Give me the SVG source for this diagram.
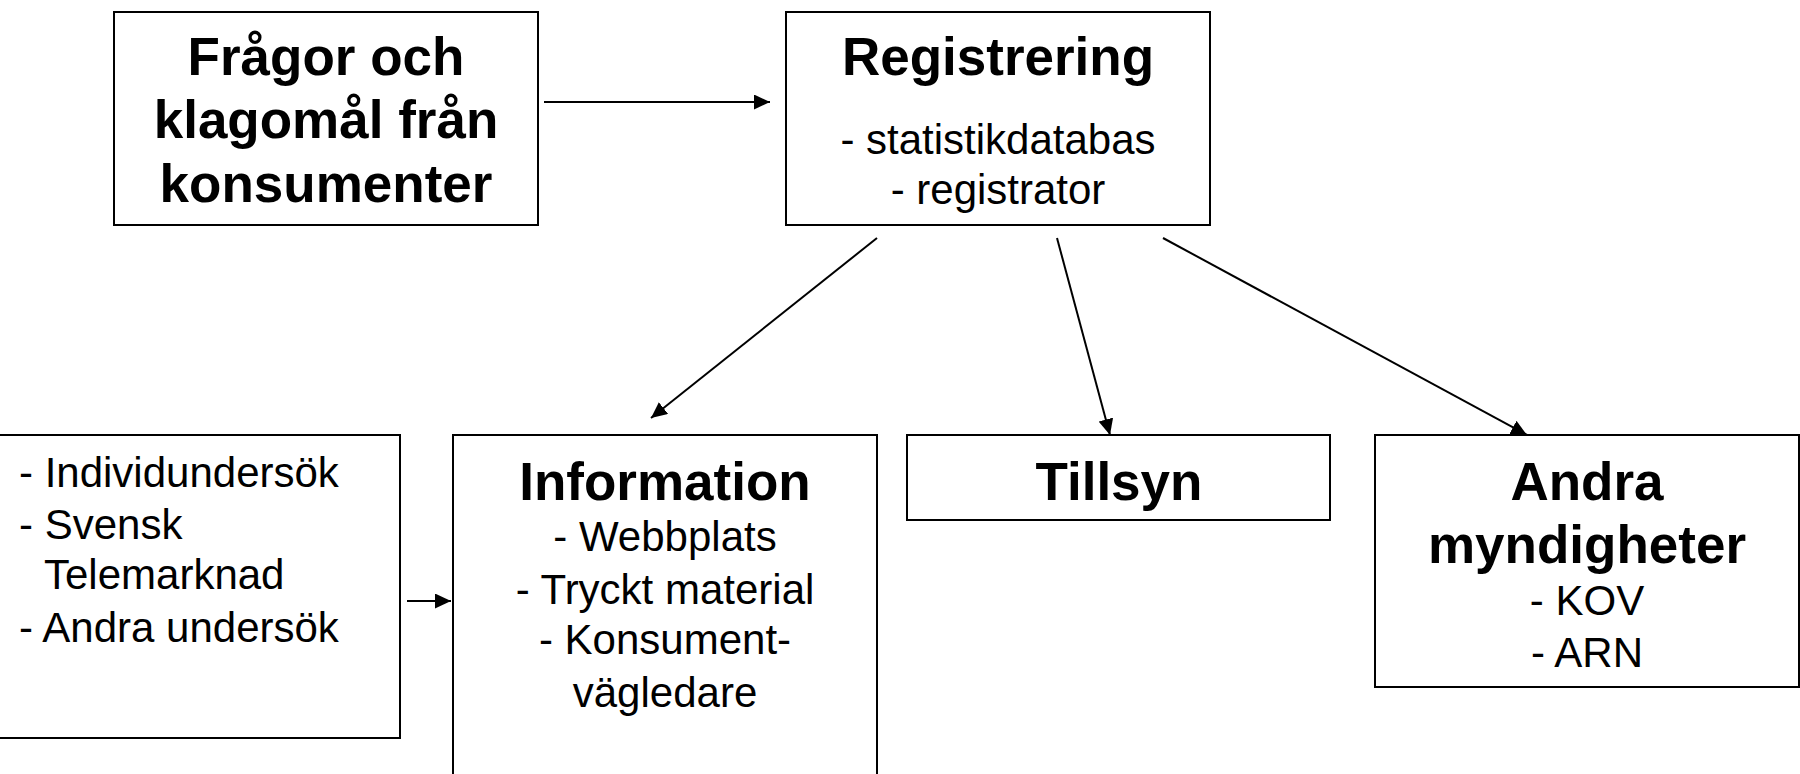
<svg xmlns="http://www.w3.org/2000/svg" width="1800" height="774" viewBox="0 0 1800 774">
<defs>
<marker id="ah" markerWidth="16" markerHeight="15" refX="16" refY="7.5" orient="auto" markerUnits="userSpaceOnUse">
<path d="M0,0 L16,7.5 L0,15 Z" fill="#000"/>
</marker>
<style>
.box{fill:#fff;stroke:#000;stroke-width:2}
.b{font-family:"Liberation Sans",Arial,sans-serif;font-weight:bold;font-size:53px;fill:#000}
.r{font-family:"Liberation Sans",Arial,sans-serif;font-size:42px;fill:#000}
.c{text-anchor:middle}
.ln{stroke:#000;stroke-width:2;fill:none;marker-end:url(#ah)}
</style>
</defs>
<rect width="1800" height="774" fill="#fff"/>
<g id="fragor">
<rect class="box" x="114" y="12" width="424" height="213"/>
<text class="b c" x="326" y="75">Frågor och</text>
<text class="b c" x="326" y="138">klagomål från</text>
<text class="b c" x="326" y="202">konsumenter</text>
</g>
<g id="registrering">
<rect class="box" x="786" y="12" width="424" height="213"/>
<text class="b c" x="998" y="75">Registrering</text>
<text class="r c" x="998" y="154">- statistikdatabas</text>
<text class="r c" x="998" y="204">- registrator</text>
</g>
<g id="undersok">
<rect class="box" x="-2" y="435" width="402" height="303"/>
<text class="r" x="19" y="487">- Individundersök</text>
<text class="r" x="19" y="539">- Svensk</text>
<text class="r" x="44" y="589">Telemarknad</text>
<text class="r" x="19" y="642">- Andra undersök</text>
</g>
<g id="information">
<rect class="box" x="453" y="435" width="424" height="350"/>
<text class="b c" x="665" y="500">Information</text>
<text class="r c" x="665" y="551">- Webbplats</text>
<text class="r c" x="665" y="604">- Tryckt material</text>
<text class="r c" x="665" y="654">- Konsument-</text>
<text class="r c" x="665" y="707">vägledare</text>
</g>
<g id="tillsyn">
<rect class="box" x="907" y="435" width="423" height="85"/>
<text class="b c" x="1119" y="500">Tillsyn</text>
</g>
<g id="andra">
<rect class="box" x="1375" y="435" width="424" height="252"/>
<text class="b c" x="1587" y="500">Andra</text>
<text class="b c" x="1587" y="563">myndigheter</text>
<text class="r c" x="1587" y="615">- KOV</text>
<text class="r c" x="1587" y="667">- ARN</text>
</g>
<g id="connectors">
<line class="ln" x1="544" y1="102" x2="770" y2="102"/>
<line class="ln" x1="407" y1="601" x2="451" y2="601"/>
<line class="ln" x1="877" y1="238" x2="651" y2="418"/>
<line class="ln" x1="1057" y1="238" x2="1110" y2="435"/>
<line class="ln" x1="1163" y1="238" x2="1527" y2="435"/>
</g>
</svg>
